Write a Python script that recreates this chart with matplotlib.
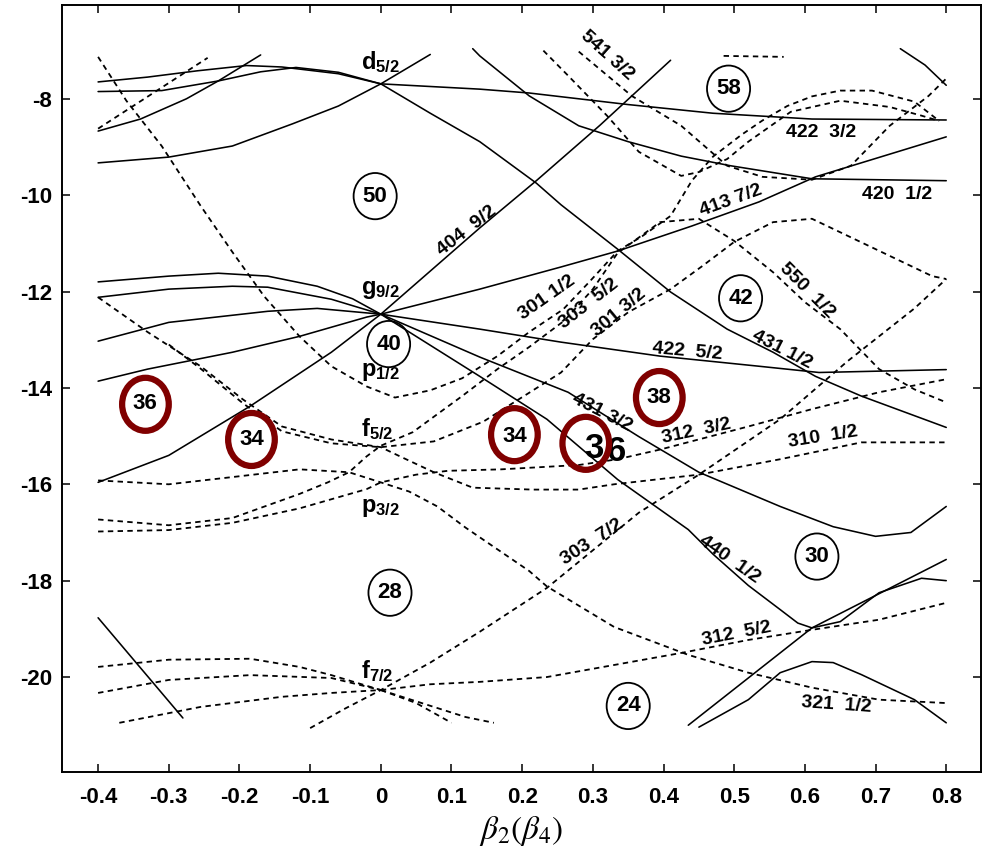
import matplotlib
matplotlib.use("Agg")
import matplotlib.pyplot as plt
from matplotlib.patches import Ellipse

plt.rcParams['font.family'] = ['Liberation Sans', 'DejaVu Sans']
plt.rcParams['axes.unicode_minus'] = False
plt.rcParams['mathtext.fontset'] = 'custom'
plt.rcParams['mathtext.rm'] = 'Liberation Sans:bold'
plt.rcParams['mathtext.it'] = 'Liberation Sans:bold'

# ---- level energies (beta2, energy in MeV) ----
# solid lines
d52_a_x = [-0.40, -0.33, -0.26, -0.19, -0.14, -0.06, 0.0]
d52_a_y = [-7.65, -7.55, -7.42, -7.31, -7.34, -7.48, -7.69]
d52_b_x = [-0.40, -0.31, -0.23, -0.17, -0.12, -0.06, 0.0]
d52_b_y = [-7.85, -7.83, -7.63, -7.44, -7.35, -7.45, -7.69]
d52_c_x = [-0.40, -0.30, -0.21, -0.125, -0.06, 0.0, 0.07]
d52_c_y = [-9.33, -9.21, -8.98, -8.52, -8.15, -7.69, -7.08]
up_l_x = [-0.40, -0.34, -0.275, -0.23, -0.17]
up_l_y = [-8.67, -8.42, -8.0, -7.63, -7.09]
n422_32_x = [0.0, 0.14, 0.21, 0.35, 0.47, 0.61, 0.80]
n422_32_y = [-7.69, -7.8, -7.88, -8.12, -8.3, -8.42, -8.44]
n431_12_x = [0.0, 0.07, 0.14, 0.22, 0.255, 0.335, 0.41, 0.49, 0.555, 0.615, 0.68, 0.80]
n431_12_y = [-7.69, -8.3, -8.89, -9.75, -10.2, -11.12, -12.01, -12.78, -13.26, -13.76, -14.17, -14.82]
n420_12_x = [0.13, 0.14, 0.21, 0.28, 0.35, 0.425, 0.495, 0.61, 0.80]
n420_12_y = [-6.96, -7.11, -7.94, -8.56, -8.89, -9.19, -9.39, -9.66, -9.70]
g92_a_x = [-0.40, -0.30, -0.23, -0.16, -0.09, -0.04, 0.0]
g92_a_y = [-11.80, -11.68, -11.62, -11.68, -11.89, -12.15, -12.47]
g92_b_x = [-0.40, -0.30, -0.21, -0.16, -0.07, 0.0]
g92_b_y = [-12.12, -11.95, -11.89, -11.91, -12.16, -12.47]
g92_c_x = [-0.40, -0.30, -0.16, -0.09, 0.0]
g92_c_y = [-13.03, -12.64, -12.41, -12.35, -12.47]
g92_d_x = [-0.40, -0.33, -0.21, -0.115, -0.02, 0.0]
g92_d_y = [-13.86, -13.61, -13.26, -12.93, -12.53, -12.47]
n404_x = [-0.40, -0.30, -0.185, -0.07, 0.0, 0.14, 0.22, 0.31, 0.41]
n404_y = [-15.96, -15.40, -14.38, -13.26, -12.47, -10.68, -9.70, -8.55, -7.20]
n413_x = [0.0, 0.14, 0.255, 0.335, 0.44, 0.535, 0.615, 0.80]
n413_y = [-12.47, -11.95, -11.49, -11.16, -10.64, -10.14, -9.62, -8.79]
n422_52_x = [0.0, 0.14, 0.255, 0.395, 0.535, 0.62, 0.80]
n422_52_y = [-12.47, -12.78, -13.05, -13.34, -13.55, -13.68, -13.62]
n431_32_x = [0.0, 0.14, 0.265, 0.365, 0.45, 0.565, 0.64, 0.70, 0.75, 0.80]
n431_32_y = [-12.47, -13.36, -14.09, -15.01, -15.75, -16.46, -16.88, -17.08, -17.0, -16.46]
n440_x = [0.0, 0.14, 0.235, 0.335, 0.435, 0.47, 0.52, 0.565, 0.59, 0.61, 0.65, 0.705, 0.765, 0.80]
n440_y = [-12.47, -13.76, -14.65, -15.90, -16.94, -17.45, -18.1, -18.6, -18.88, -18.98, -18.85, -18.25, -17.95, -18.0]
br_line_x = [0.435, 0.61, 0.80]
br_line_y = [-21.0, -18.98, -17.56]
br_hump_x = [0.45, 0.52, 0.565, 0.61, 0.64, 0.68, 0.755, 0.80]
br_hump_y = [-21.04, -20.47, -19.91, -19.68, -19.70, -19.95, -20.47, -20.95]
tr_line_x = [0.735, 0.77, 0.80]
tr_line_y = [-6.96, -7.3, -7.72]
bl_line_x = [-0.40, -0.28]
bl_line_y = [-18.77, -20.85]

# dashed lines
dl_a_x = [-0.40, -0.245]
dl_a_y = [-8.62, -7.15]
p12_x = [-0.40, -0.36, -0.31, -0.255, -0.21, -0.165, -0.115, -0.07, -0.02, 0.02, 0.07, 0.115,
         0.165, 0.21, 0.258, 0.295, 0.335, 0.37, 0.41, 0.44, 0.47, 0.51, 0.54, 0.575, 0.61,
         0.65, 0.695, 0.755, 0.79]
p12_y = [-7.13, -8.04, -8.98, -10.22, -11.18, -12.1, -12.93, -13.55, -13.97, -14.2, -14.05, -13.8,
         -13.34, -12.84, -12.37, -11.8, -11.16, -10.85, -10.43, -9.7, -9.2, -8.75, -8.45, -8.15, -7.95,
         -7.83, -7.83, -8.06, -8.46]
top_a_x = [0.23, 0.265, 0.32, 0.365, 0.425, 0.45, 0.49, 0.52, 0.58, 0.65, 0.72, 0.765, 0.79]
top_a_y = [-7.0, -7.52, -8.35, -9.10, -9.6, -9.52, -9.25, -8.89, -8.27, -8.04, -8.17, -8.35, -8.46]
n541_x = [0.28, 0.355, 0.425, 0.49, 0.54, 0.61, 0.665, 0.72, 0.775, 0.80]
n541_y = [-7.02, -7.94, -8.56, -9.39, -9.62, -9.68, -9.39, -8.56, -7.94, -7.58]
top_b_x = [0.485, 0.57]
top_b_y = [-7.11, -7.13]
f52_a_x = [-0.40, -0.33, -0.255, -0.195, -0.14, -0.07, 0.0, 0.027, 0.075, 0.13, 0.215, 0.28,
           0.33, 0.45, 0.565, 0.68, 0.80]
f52_a_y = [-12.12, -12.84, -13.55, -14.24, -14.8, -15.07, -15.23, -15.42, -15.75, -16.07, -16.11, -16.11,
           -16.0, -15.8, -15.48, -15.13, -15.13]
f52_b_x = [-0.30, -0.255, -0.195, -0.14, -0.07, 0.0, 0.075, 0.145, 0.21, 0.255, 0.30, 0.35, 0.41,
           0.455, 0.50, 0.555, 0.61, 0.65, 0.72, 0.78, 0.80]
f52_b_y = [-13.1, -13.6, -14.32, -14.9, -15.15, -15.23, -15.11, -14.7, -14.1, -13.68, -12.99, -12.43, -11.95,
           -11.47, -10.97, -10.56, -10.49, -10.77, -11.26, -11.68, -11.74]
f52_c_x = [-0.40, -0.30, -0.21, -0.115, -0.075, -0.045, -0.02, 0.0, 0.045, 0.115, 0.165, 0.21, 0.26,
           0.30, 0.335, 0.395, 0.45, 0.50, 0.555, 0.60, 0.65, 0.705, 0.755, 0.80]
f52_c_y = [-16.73, -16.85, -16.7, -16.2, -15.96, -15.75, -15.42, -15.2, -14.92, -14.17, -13.61, -13.15, -12.6,
           -11.95, -11.2, -10.56, -10.49, -10.95, -11.6, -12.22, -12.78, -13.61, -14.03, -14.30]
p32_a_x = [-0.40, -0.30, -0.21, -0.115, -0.02, 0.0, 0.05, 0.095, 0.17, 0.28, 0.335, 0.395, 0.52,
           0.61, 0.705, 0.80]
p32_a_y = [-16.98, -16.95, -16.8, -16.5, -16.1, -15.96, -15.8, -15.72, -15.69, -15.6, -15.48, -15.28, -14.80,
           -14.44, -14.09, -13.82]
p32_b_x = [-0.40, -0.30, -0.21, -0.115, -0.045, 0.0, 0.04, 0.08, 0.12, 0.17, 0.21, 0.235, 0.33,
           0.435, 0.52, 0.61, 0.705, 0.80]
p32_b_y = [-15.92, -16.0, -15.85, -15.69, -15.75, -15.96, -16.15, -16.46, -16.9, -17.4, -17.8, -18.12, -18.96,
           -19.54, -19.91, -20.22, -20.47, -20.54]
f72_a_x = [-0.40, -0.30, -0.185, -0.115, -0.07, 0.0]
f72_a_y = [-19.79, -19.64, -19.62, -19.79, -19.96, -20.27]
f72_b_x = [-0.40, -0.30, -0.185, -0.07, 0.0]
f72_b_y = [-20.33, -20.06, -19.96, -20.02, -20.27]
f72_c_x = [-0.37, -0.255, -0.14, -0.07, 0.0]
f72_c_y = [-20.95, -20.62, -20.41, -20.33, -20.27]
n303_72_x = [-0.10, -0.05, 0.0, 0.07, 0.14, 0.235, 0.31, 0.365, 0.45, 0.565, 0.66, 0.755, 0.80]
n303_72_y = [-21.06, -20.65, -20.27, -19.7, -19.06, -18.15, -17.25, -16.59, -15.80, -14.65, -13.45, -12.35, -11.74]
n312_52_x = [0.0, 0.07, 0.14, 0.235, 0.33, 0.425, 0.52, 0.61, 0.705, 0.80]
n312_52_y = [-20.27, -20.15, -20.10, -20.0, -19.75, -19.50, -19.23, -19.02, -18.81, -18.46]
f72_d_x = [0.0, 0.05, 0.10]
f72_d_y = [-20.27, -20.54, -20.95]
f72_e_x = [0.0, 0.075, 0.12, 0.16]
f72_e_y = [-20.27, -20.62, -20.83, -20.95]

solid_lines = [
    (d52_a_x, d52_a_y), (d52_b_x, d52_b_y), (d52_c_x, d52_c_y), (up_l_x, up_l_y),
    (n422_32_x, n422_32_y), (n431_12_x, n431_12_y), (n420_12_x, n420_12_y),
    (g92_a_x, g92_a_y), (g92_b_x, g92_b_y), (g92_c_x, g92_c_y), (g92_d_x, g92_d_y),
    (n404_x, n404_y), (n413_x, n413_y), (n422_52_x, n422_52_y), (n431_32_x, n431_32_y),
    (n440_x, n440_y), (br_line_x, br_line_y), (br_hump_x, br_hump_y),
    (tr_line_x, tr_line_y), (bl_line_x, bl_line_y),
]
dashed_lines = [
    (dl_a_x, dl_a_y), (p12_x, p12_y), (top_a_x, top_a_y), (n541_x, n541_y), (top_b_x, top_b_y),
    (f52_a_x, f52_a_y), (f52_b_x, f52_b_y), (f52_c_x, f52_c_y), (p32_a_x, p32_a_y),
    (p32_b_x, p32_b_y), (f72_a_x, f72_a_y), (f72_b_x, f72_b_y), (f72_c_x, f72_c_y),
    (n303_72_x, n303_72_y), (n312_52_x, n312_52_y), (f72_d_x, f72_d_y), (f72_e_x, f72_e_y),
]

# orbital labels at beta=0
shell_labels = ['d$_{5/2}$', 'g$_{9/2}$', 'p$_{1/2}$', 'f$_{5/2}$', 'p$_{3/2}$', 'f$_{7/2}$']
shell_y = [-7.38, -12.05, -13.76, -15.0, -16.57, -20.02]

# Nilsson labels: text, beta2, energy, angle
nilsson_text = ['404  9/2', '541 3/2', '422  3/2', '420  1/2', '413 7/2', '550  1/2', '301 1/2',
                '303  5/2', '301 3/2', '422  5/2', '431 1/2', '431 3/2', '312  3/2', '310  1/2',
                '440  1/2', '303  7/2', '312  5/2', '321  1/2']
nilsson_x = [0.122, 0.32, 0.623, 0.731, 0.495, 0.603, 0.235, 0.294, 0.337, 0.433, 0.568, 0.313,
             0.446, 0.625, 0.493, 0.299, 0.504, 0.645]
nilsson_y = [-10.74, -7.1, -8.69, -9.98, -10.12, -11.99, -12.12, -12.26, -12.43, -13.24, -13.2, -14.51,
             -14.9, -15.03, -17.56, -17.19, -19.1, -20.58]
nilsson_rot = [38, -42, 0, 0, 20, -45, 35, 38, 40, -5, -27, -27, 12, 9, -35, 33, 11, -4]

# magic numbers in circles
magic_text = ['50', '58', '40', '42', '28', '30', '24']
magic_x = [-0.008, 0.492, 0.011, 0.509, 0.013, 0.617, 0.35]
magic_y = [-10.02, -7.79, -13.09, -12.14, -18.25, -17.5, -20.6]

# highlighted numbers (red rings)
red_text = ['36', '34', '34', '38']
red_x = [-0.334, -0.183, 0.189, 0.394]
red_y = [-14.32, -15.07, -15.01, -14.2]
red_ring_x = [-0.333, -0.183, 0.189, 0.394, 0.290]
red_ring_y = [-14.34, -15.07, -14.97, -14.2, -15.15]

fig = plt.figure(figsize=(9.88, 8.61), dpi=100)
ax = fig.add_axes([0.0628, 0.1034, 0.930, 0.891])

dash = (0, (3.0, 2.4))
for x, y in solid_lines:
    ax.plot(x, y, color='black', lw=1.15, solid_capstyle='round', solid_joinstyle='round')
for x, y in dashed_lines:
    ax.plot(x, y, color='black', lw=1.3, linestyle=dash)

for t, y in zip(shell_labels, shell_y):
    ax.text(-0.028, y, t, fontsize=17, fontweight='bold', ha='left', va='baseline')

for t, x, y, r in zip(nilsson_text, nilsson_x, nilsson_y, nilsson_rot):
    ax.text(x, y, t, fontsize=14, fontweight='bold', ha='center', va='center', rotation=r,
            rotation_mode='anchor')

for t, x, y in zip(magic_text, magic_x, magic_y):
    ax.add_patch(Ellipse((x, y), 0.061, 0.96, fill=False, ec='black', lw=1.3))
    ax.text(x, y, t, fontsize=16, fontweight='bold', ha='center', va='center')

for t, x, y in zip(red_text, red_x, red_y):
    ax.text(x, y, t, fontsize=16, fontweight='bold', ha='center', va='center', zorder=5)
ax.text(0.301, -15.26, '3', fontsize=25, fontweight='bold', ha='center', va='center', zorder=5)
ax.text(0.333, -15.32, '6', fontsize=25, fontweight='bold', ha='center', va='center', zorder=5)
for x, y in zip(red_ring_x, red_ring_y):
    ax.add_patch(Ellipse((x, y), 0.066, 1.1, fill=False, ec='#800000', lw=4.5, zorder=6))

ax.set_xlim(-0.451, 0.849)
ax.set_ylim(-21.97, -6.05)
xt = [-0.4, -0.3, -0.2, -0.1, 0, 0.1, 0.2, 0.3, 0.4, 0.5, 0.6, 0.7, 0.8]
ax.set_xticks(xt)
ax.set_xticklabels(['-0.4', '-0.3', '-0.2', '-0.1', '0', '0.1', '0.2', '0.3', '0.4', '0.5',
                    '0.6', '0.7', '0.8'], fontweight='bold')
yt = [-8, -10, -12, -14, -16, -18, -20]
ax.set_yticks(yt)
ax.set_yticklabels([str(v) for v in yt], fontweight='bold')
ax.tick_params(direction='in', top=True, right=True, length=6, width=1.1,
               labelsize=16)
ax.tick_params(axis='x', pad=11)
ax.tick_params(axis='y', pad=7)
for s in ax.spines.values():
    s.set_linewidth(1.4)

ax.set_xlabel(r'$\beta_2(\beta_4)$', fontsize=24, math_fontfamily='stix', labelpad=4)

fig.savefig('out.png', dpi=100)
